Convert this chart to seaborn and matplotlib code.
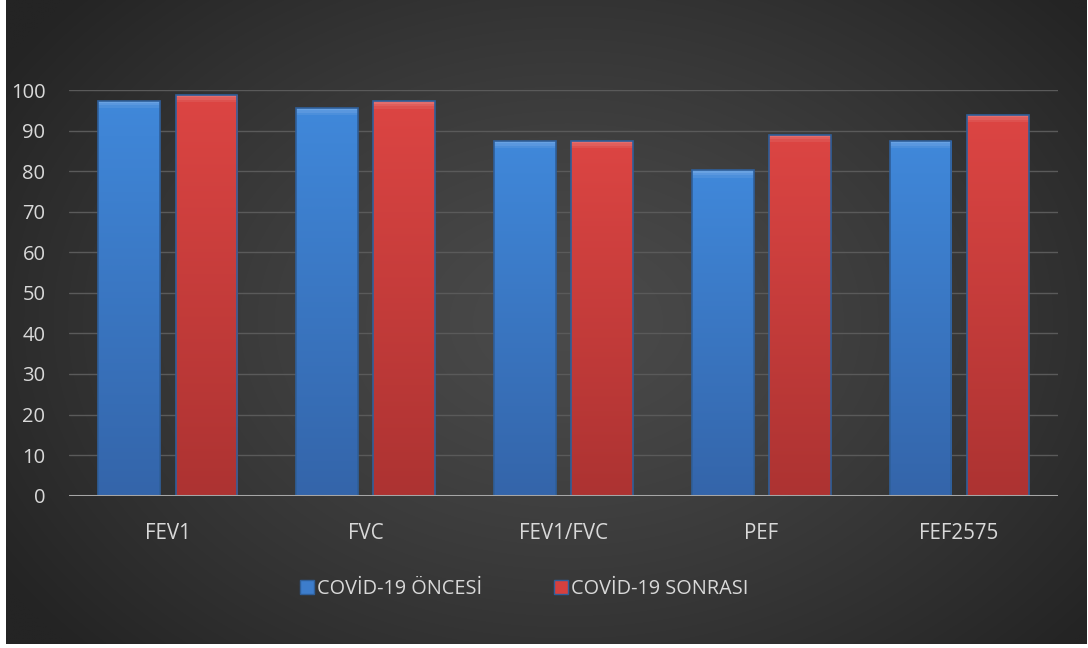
import numpy as np
import pandas as pd
import matplotlib
matplotlib.use("Agg")
import matplotlib.pyplot as plt
from matplotlib.patches import Patch
import seaborn as sns

# ---- data ----
categories = ["FEV1", "FVC", "FEV1/FVC", "PEF", "FEF2575"]
series_names = ["COVİD-19 ÖNCESİ", "COVİD-19 SONRASI"]
before_vals = [97.4, 95.6, 87.5, 80.2, 87.5]
after_vals = [98.8, 97.2, 87.5, 89.0, 93.9]
y_ticks = [0, 10, 20, 30, 40, 50, 60, 70, 80, 90, 100]

df = pd.DataFrame({
    "cat": categories * 2,
    "series": [series_names[0]] * len(categories) + [series_names[1]] * len(categories),
    "value": before_vals + after_vals,
})

sns.set_theme(style="white")
plt.rcParams["font.family"] = ["Open Sans", "DejaVu Sans"]

W, H = 1088, 648
fig = plt.figure(figsize=(W / 100, H / 100), dpi=100)
fig.patch.set_facecolor("white")

# background radial gradient panel
bg = fig.add_axes([6 / W, 4 / H, 1081 / W, 644 / H])
bg.set_axis_off()
yy, xx = np.mgrid[0:1:400j, 0:1:700j]
r = np.sqrt(((xx - 0.52) / 0.62) ** 2 + ((yy - 0.5) / 0.75) ** 2)
r = np.clip(r, 0, 1)
c0 = np.array([0x4a, 0x4a, 0x4a]) / 255
c1 = np.array([0x24, 0x24, 0x24]) / 255
img = c0[None, None, :] * (1 - r[..., None] ** 1.3) + c1[None, None, :] * (r[..., None] ** 1.3)
bg.imshow(img, aspect="auto", extent=[0, 1, 0, 1], interpolation="bilinear")

ax = fig.add_axes([69 / W, 1 - 495.7 / H, 989 / W, (495.7 - 90) / H])
ax.patch.set_alpha(0)

palette = {series_names[0]: "#3d7dcc", series_names[1]: "#d6403e"}
sns.barplot(data=df, x="cat", y="value", hue="series", order=categories,
            hue_order=series_names, palette=palette, width=0.78, gap=0.2,
            saturation=1, edgecolor="#2f5f9a", linewidth=1.2, ax=ax,
            legend=False, zorder=3)

ax.set_ylim(0, 100)
ax.set_xlim(-0.5, len(categories) - 0.5)
ax.set_yticks(y_ticks)
ax.grid(axis="y", color="#5a5a5a", linewidth=1)
ax.grid(axis="x", visible=False)
ax.set_axisbelow(True)
for s in ax.spines.values():
    s.set_visible(False)
ax.axhline(0, color="#a6a6a6", linewidth=2.2, zorder=4)
ax.tick_params(axis="both", length=0, colors="#d9d9d9")
ax.tick_params(axis="y", pad=17, labelsize=14.5)
ax.tick_params(axis="x", pad=20, labelsize=14.8)
ax.set_xlabel("")
ax.set_ylabel("")

# bevel-like gradient shading on bars
def shade(color_top, color_bot, n=64):
    t = np.linspace(0, 1, n)[:, None]
    a = np.array(matplotlib.colors.to_rgb(color_top))
    b = np.array(matplotlib.colors.to_rgb(color_bot))
    return (a * (1 - t) + b * t)[:, None, :].repeat(2, axis=1)

grad = {series_names[0]: shade("#4088da", "#3465aa"),
        series_names[1]: shade("#dc4543", "#ad3332")}
for i, cont in enumerate(ax.containers):
    g = grad[series_names[i]]
    for p in cont.patches:
        x0, y0 = p.get_x(), p.get_y()
        w, h = p.get_width(), p.get_height()
        im = ax.imshow(g, extent=[x0, x0 + w, y0, y0 + h], aspect="auto",
                       zorder=3.5, interpolation="bilinear")
        im.set_clip_path(p)
        # top bevel highlight (fading)
        for k, a in enumerate([0.22, 0.14, 0.07]):
            band = ax.fill_between([x0, x0 + w], y0 + h - 0.6 * (k + 1), y0 + h - 0.6 * k,
                                   color="white", alpha=a, zorder=3.6, linewidth=0)
            band.set_clip_path(p)
        p.set_zorder(3.7)
        p.set_facecolor("none")

# legend
handles = [Patch(facecolor="#3d7dcc", edgecolor="#2f5f9a", label=series_names[0]),
           Patch(facecolor="#d6403e", edgecolor="#2f5f9a", label=series_names[1])]
leg = fig.legend(handles=handles, loc="center", bbox_to_anchor=(524 / W, 1 - 589 / H),
                 ncol=2, frameon=False, fontsize=14.3, handlelength=0.7,
                 handleheight=0.7, handletextpad=0.15, columnspacing=3.6)
for t in leg.get_texts():
    t.set_color("#d9d9d9")

fig.savefig("out.png", dpi=100, facecolor="white")
